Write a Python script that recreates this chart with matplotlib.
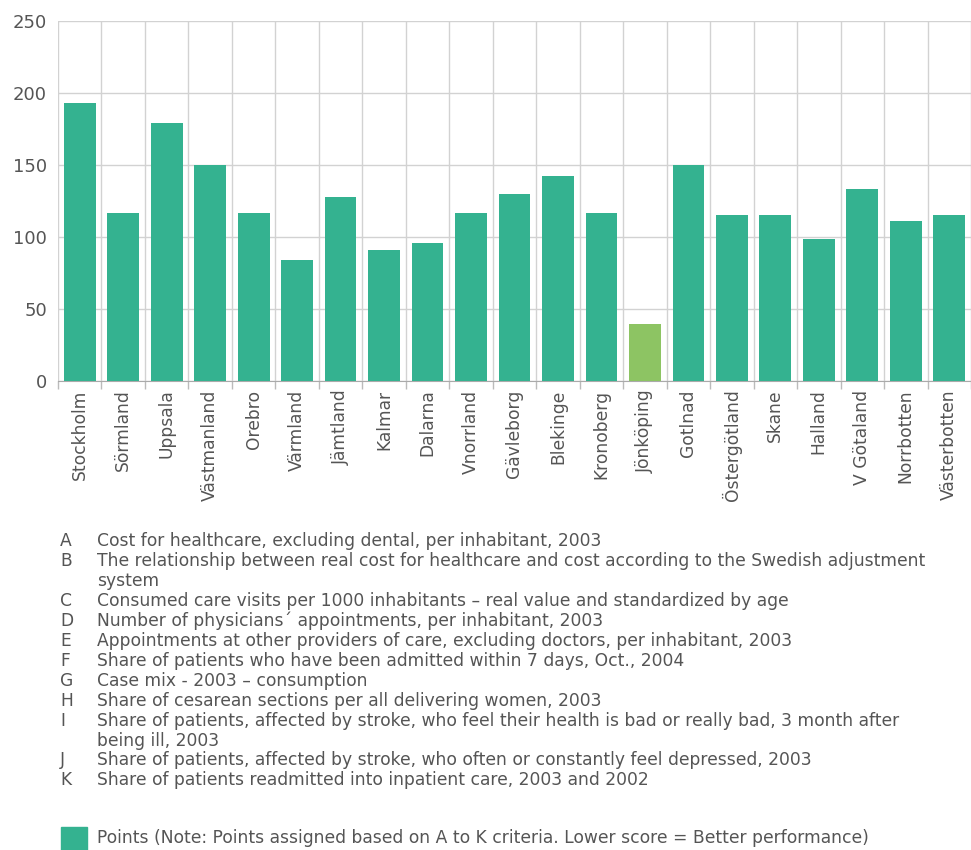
import numpy as np
import matplotlib
matplotlib.use("Agg")
import matplotlib.pyplot as plt
from matplotlib.patches import Rectangle

counties = ["Stockholm", "Sörmland", "Uppsala", "Västmanland", "Orebro", "Värmland",
            "Jämtland", "Kalmar", "Dalarna", "Vnorrland", "Gävleborg", "Blekinge",
            "Kronoberg", "Jönköping", "Gotlnad", "Östergötland", "Skane", "Halland",
            "V Götaland", "Norrbotten", "Västerbotten"]
points = [193, 117, 179, 150, 117, 84, 128, 91, 96, 117, 130, 142,
          117, 40, 150, 115, 115, 99, 133, 111, 115]
highlight = "Jönköping"

criteria_keys = ["A", "B", "", "C", "D", "E", "F", "G", "H", "I", "", "J", "K"]
criteria_text = [
    "Cost for healthcare, excluding dental, per inhabitant, 2003",
    "The relationship between real cost for healthcare and cost according to the Swedish adjustment",
    "system",
    "Consumed care visits per 1000 inhabitants \u2013 real value and standardized by age",
    "Number of physicians\u00b4 appointments, per inhabitant, 2003",
    "Appointments at other providers of care, excluding doctors, per inhabitant, 2003",
    "Share of patients who have been admitted within 7 days, Oct., 2004",
    "Case mix - 2003 \u2013 consumption",
    "Share of cesarean sections per all delivering women, 2003",
    "Share of patients, affected by stroke, who feel their health is bad or really bad, 3 month after",
    "being ill, 2003",
    "Share of patients, affected by stroke, who often or constantly feel depressed, 2003",
    "Share of patients readmitted into inpatient care, 2003 and 2002",
]
legend_label = "Points (Note: Points assigned based on A to K criteria. Lower score = Better performance)"

teal = "#34b290"
light_green = "#8dc463"
grid_col = "#d2d2d2"
text_col = "#555555"

W, H = 971, 850
fig = plt.figure(figsize=(W / 100, H / 100), dpi=100)
ax = fig.add_axes([58 / W, 1 - 381.3 / H, (W - 58) / W, (381.3 - 20.7) / H])

x = np.arange(len(counties))
colors = [light_green if c == highlight else teal for c in counties]
ax.bar(x, points, width=0.73, color=colors, zorder=3)

ax.set_xlim(-0.5, -0.5 + (W - 58) / 43.8)
ax.set_ylim(0, 250)
ax.set_yticks([0, 50, 100, 150, 200, 250])
ax.set_xticks(x)
ax.set_xticklabels(counties, rotation=90)
ax.set_xticks(np.arange(len(counties) + 1) - 0.5, minor=True)

ax.tick_params(axis="x", which="major", length=0, pad=6, labelsize=12.3, labelcolor=text_col)
ax.tick_params(axis="x", which="minor", length=6, color="#bbbbbb", width=1)
ax.tick_params(axis="y", length=0, pad=8, labelsize=13, labelcolor=text_col)

ax.grid(axis="y", color=grid_col, linewidth=1, zorder=0)
ax.grid(axis="x", which="minor", color=grid_col, linewidth=1, zorder=0)
for s in ["top", "right", "left"]:
    ax.spines[s].set_visible(False)
ax.spines["bottom"].set_color("#aaaaaa")

# criteria list
fs = 12.3
y0 = 541.5
step = 19.9
for i, (k, t) in enumerate(zip(criteria_keys, criteria_text)):
    yy = 1 - (y0 + i * step) / H
    if k:
        fig.text(60 / W, yy, k, fontsize=fs, color=text_col, va="center")
    fig.text(97 / W, yy, t, fontsize=fs, color=text_col, va="center")

fig.patches.append(Rectangle((61 / W, 0), 26 / W, 23 / H, transform=fig.transFigure,
                             color=teal, figure=fig))
fig.text(97 / W, 1 - 838 / H, legend_label, fontsize=fs, color=text_col, va="center")

fig.savefig("out.png", dpi=100)
